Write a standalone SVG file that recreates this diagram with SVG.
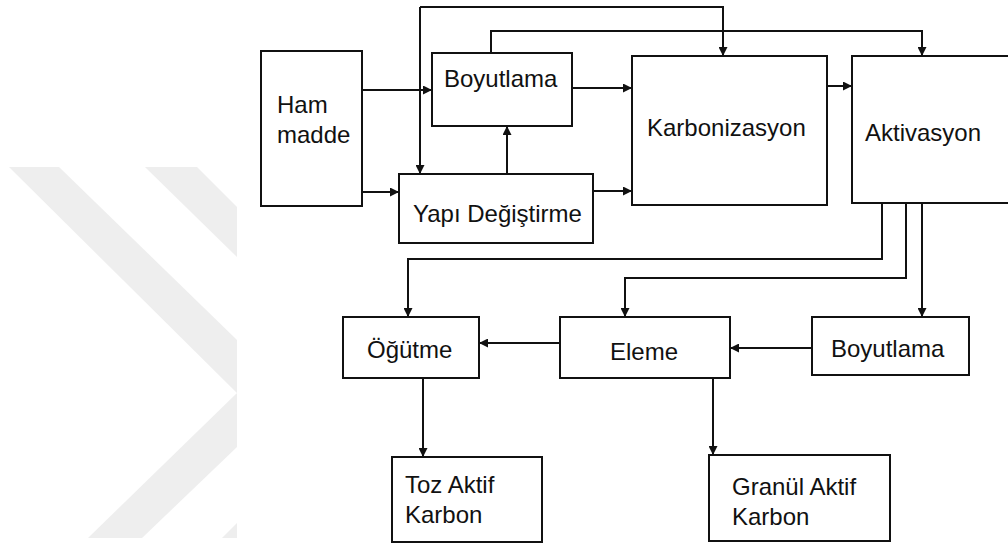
<svg xmlns="http://www.w3.org/2000/svg" width="1008" height="545" viewBox="0 0 1008 545">
<defs>
<style>
.box{fill:#fff;stroke:#111;stroke-width:2}
.lbl{font-family:"Liberation Sans",Arial,sans-serif;font-size:24px;fill:#111}
.wire{fill:none;stroke:#111;stroke-width:2}
.arr{marker-end:url(#ah)}
.wm{fill:#eeeeee;stroke:none}
</style>
<marker id="ah" viewBox="0 0 10 10" refX="10" refY="5" markerWidth="9" markerHeight="9" markerUnits="userSpaceOnUse" orient="auto">
<path d="M0,0 L10,5 L0,10 z" fill="#111"/>
</marker>
</defs>
<rect x="0" y="0" width="1008" height="545" fill="#fff"/>
<g id="watermark">
<polygon class="wm" points="9,167 59,167 237,340 237,447 142,538 88,538 237,393"/>
<polygon class="wm" points="145,167 197,167 237,207 237,257"/>
<polygon class="wm" points="237,523 237,538 222,538"/>
</g>
<g id="connectors">
<path class="wire arr" d="M362,90 H432"/>
<path class="wire arr" d="M362,192 H399"/>
<path class="wire arr" d="M507,174 V126"/>
<path class="wire arr" d="M420,7 V174"/>
<path class="wire arr" d="M420,7 H723 V56"/>
<path class="wire arr" d="M491,53 V31 H922 V56"/>
<path class="wire arr" d="M572,88 H632"/>
<path class="wire arr" d="M593,191 H632"/>
<path class="wire arr" d="M827,86 H852"/>
<path class="wire arr" d="M882,203 V259 H408 V317"/>
<path class="wire arr" d="M906,203 V278 H625 V317"/>
<path class="wire arr" d="M922,203 V317"/>
<path class="wire arr" d="M812,348 H730"/>
<path class="wire arr" d="M560,343 H479"/>
<path class="wire arr" d="M423,378 V457"/>
<path class="wire arr" d="M713,378 V455"/>
</g>
<g id="ham-madde">
<rect class="box" x="261" y="51" width="101" height="155"/>
<text class="lbl" x="277" y="113">Ham</text>
<text class="lbl" x="277" y="143">madde</text>
</g>
<g id="boyutlama-1">
<rect class="box" x="432" y="53" width="140" height="73"/>
<text class="lbl" x="444" y="87">Boyutlama</text>
</g>
<g id="yapi-degistirme">
<rect class="box" x="399" y="174" width="194" height="69"/>
<text class="lbl" x="413" y="222">Yapı Değiştirme</text>
</g>
<g id="karbonizasyon">
<rect class="box" x="632" y="56" width="195" height="149"/>
<text class="lbl" x="647" y="136">Karbonizasyon</text>
</g>
<g id="aktivasyon">
<rect class="box" x="852" y="56" width="170" height="147"/>
<text class="lbl" x="865" y="141">Aktivasyon</text>
</g>
<g id="ogutme">
<rect class="box" x="343" y="317" width="136" height="61"/>
<text class="lbl" x="367" y="358">Öğütme</text>
</g>
<g id="eleme">
<rect class="box" x="560" y="317" width="170" height="61"/>
<text class="lbl" x="610" y="360">Eleme</text>
</g>
<g id="boyutlama-2">
<rect class="box" x="812" y="317" width="157" height="58"/>
<text class="lbl" x="831" y="357">Boyutlama</text>
</g>
<g id="toz-aktif-karbon">
<rect class="box" x="392" y="457" width="150" height="85"/>
<text class="lbl" x="405" y="493">Toz Aktif</text>
<text class="lbl" x="405" y="523">Karbon</text>
</g>
<g id="granul-aktif-karbon">
<rect class="box" x="709" y="455" width="181" height="86"/>
<text class="lbl" x="732" y="495">Granül Aktif</text>
<text class="lbl" x="732" y="525">Karbon</text>
</g>
</svg>
